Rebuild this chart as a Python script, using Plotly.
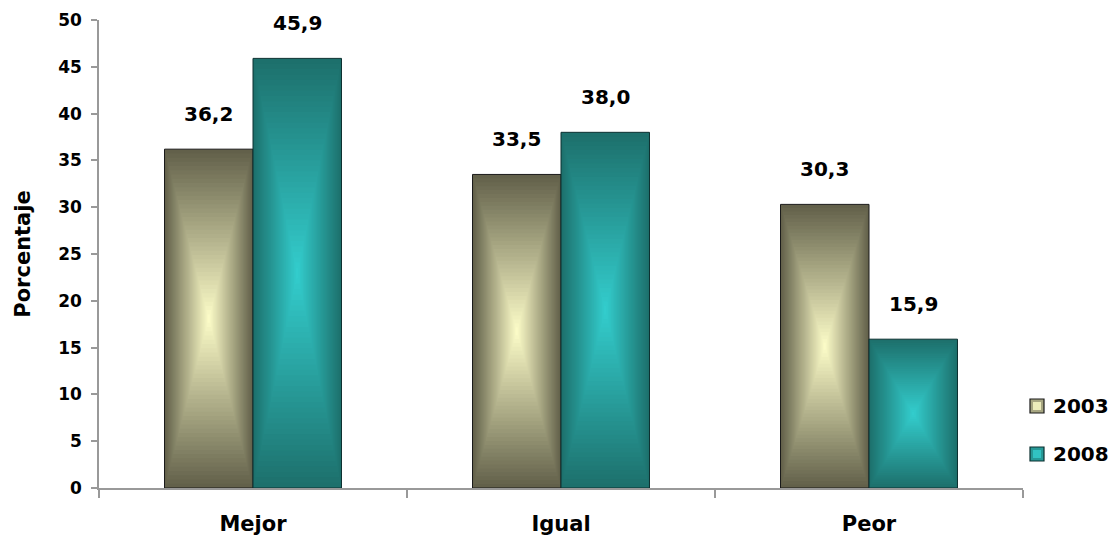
import plotly.graph_objects as go

categories = ["Mejor", "Igual", "Peor"]
series_names = ["2003", "2008"]
values_2003 = [36.2, 33.5, 30.3]
values_2008 = [45.9, 38.0, 15.9]

edge_colors = {"2003": (0x62, 0x60, 0x4A), "2008": (0x1D, 0x70, 0x6C)}
center_colors = {"2003": (0xFB, 0xFB, 0xC7), "2008": (0x33, 0xCC, 0xCC)}
border_colors = {"2003": "#1a1a1a", "2008": "#0d3030"}

FONT = "DejaVu Sans, Verdana, sans-serif"
W = 0.2873
N = 40

ML, MR, MT, MB = 99, 86, 20, 50
FW, FH = 1109, 538
PW, PH = FW - ML - MR, FH - MT - MB


def px(x):
    return (x - ML) / PW


def py(y):
    return (FH - MB - y) / PH


def mix(c1, c2, t):
    return "rgb(%d,%d,%d)" % tuple(round(a + (b - a) * t) for a, b in zip(c1, c2))


fig = go.Figure()
series = {"2003": values_2003, "2008": values_2008}
centers = {"2003": -W / 2, "2008": W / 2}

for name in series_names:
    vals = series[name]
    for k in range(N):
        s = k / N
        t = k / (N - 1)
        wk = W * (1 - s)
        fig.add_trace(go.Bar(
            x=categories,
            y=[v * (1 - s) for v in vals],
            base=[v * s / 2 for v in vals],
            width=wk,
            offset=centers[name] - wk / 2,
            marker=dict(
                color=mix(edge_colors[name], center_colors[name], t),
                line=dict(width=1 if k == 0 else 0, color=border_colors[name]),
            ),
            name=name,
            showlegend=False,
            hoverinfo="skip",
        ))

annotations = []
for name in series_names:
    for i, v in enumerate(series[name]):
        annotations.append(dict(
            x=i + centers[name], y=v, xref="x", yref="y",
            text=f"{v:.1f}".replace(".", ","),
            showarrow=False, yanchor="middle", yshift=35,
            font=dict(family=FONT, size=20, color="black", weight="bold"),
        ))

# legend drawn as shapes + text (keeps plot area from being squeezed)
shapes = []
legend_rows = {"2003": 406, "2008": 454}
for name in series_names:
    yc = legend_rows[name]
    shapes.append(dict(
        type="rect", xref="paper", yref="paper",
        x0=px(1030), x1=px(1044), y0=py(yc + 7), y1=py(yc - 7),
        fillcolor=mix(edge_colors[name], center_colors[name], 0.45),
        line=dict(color=border_colors[name], width=1.2),
    ))
    shapes.append(dict(
        type="rect", xref="paper", yref="paper",
        x0=px(1033), x1=px(1041), y0=py(yc + 4), y1=py(yc - 4),
        fillcolor=mix(edge_colors[name], center_colors[name], 0.9),
        line=dict(width=0),
    ))
    annotations.append(dict(
        x=px(1051), y=py(yc), xref="paper", yref="paper",
        text=name, showarrow=False, xanchor="left", yanchor="middle",
        font=dict(family=FONT, size=20, color="black", weight="bold"),
    ))

fig.update_layout(
    width=FW, height=FH, autosize=False,
    margin=dict(l=ML, r=MR, t=MT, b=MB),
    paper_bgcolor="white", plot_bgcolor="white",
    barmode="overlay",
    showlegend=False,
    font=dict(family=FONT, color="black"),
    annotations=annotations,
    shapes=shapes,
    xaxis=dict(
        type="category", range=[-0.5, 2.5], automargin=False,
        showline=True, linecolor="#999999", linewidth=1.5,
        ticks="outside", ticklen=8, tickcolor="#999999", tickwidth=1.5,
        tickson="boundaries", showgrid=False,
        tickfont=dict(family=FONT, size=21, color="black", weight="bold"),
        ticklabelstandoff=16,
    ),
    yaxis=dict(
        range=[0, 50], dtick=5, automargin=False,
        showline=True, linecolor="#999999", linewidth=1.5,
        ticks="outside", ticklen=6, tickcolor="#999999", tickwidth=1.5,
        showgrid=False, zeroline=False,
        tickfont=dict(family=FONT, size=17, color="black", weight="bold"),
        ticklabelstandoff=6,
        title=dict(text="Porcentaje", standoff=22,
                   font=dict(family=FONT, size=21, color="black", weight="bold")),
    ),
)

fig.write_html(
    "out.html",
    config={"displayModeBar": False, "responsive": False},
    post_script="document.body.style.margin='0';document.body.style.overflow='hidden';",
)
